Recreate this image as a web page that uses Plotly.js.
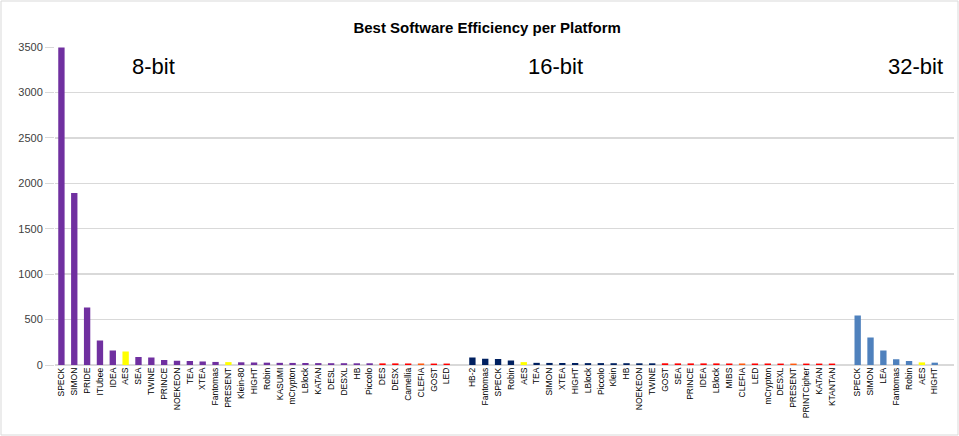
<!DOCTYPE html>
<html>
<head>
<meta charset="utf-8">
<script src="https://cdn.plot.ly/plotly-3.0.1.min.js"></script>
<style>html,body{margin:0;padding:0;background:#fff;}#chart{width:959px;height:436px;}</style>
</head>
<body>
<div id="chart"></div>
<script>
// ---- data ----
var groupNames = ['8-bit', '16-bit', '32-bit'];

var labels8 = ['SPECK','SIMON','PRIDE','ITUbee','IDEA','AES','SEA','TWINE','PRINCE','NOEKEON','TEA','XTEA','Fantomas','PRESENT','Klein-80','HIGHT','Robin','KASUMI','mCrypton','LBlock','KATAN','DESL','DESXL','HB','Piccolo','DES','DESX','Camellia','CLEFIA','GOST','LED'];
var values8 = [3480,1880,620,255,145,135,75,68,40,33,30,25,20,18,16,14,12,10,9,8,7,6,6,5,5,4,4,3,3,2,2];
var kinds8  = ['base','base','base','base','base','aes','base','base','base','base','base','base','base','aes','base','base','base','base','base','base','base','base','base','base','base','red','red','red','orange','red','red'];

var labels16 = ['HB-2','Fantomas','SPECK','Robin','AES','TEA','SIMON','XTEA','HIGHT','LBlock','Piccolo','Klein','HB','NOEKEON','TWINE','GOST','SEA','PRINCE','IDEA','LBlock','MIBS','CLEFIA','LED','mCrypton','DESXL','PRESENT','PRINTCipher','KATAN','KTANTAN'];
var values16 = [70,55,52,35,18,10,9,8,8,7,7,6,6,5,5,5,4,4,4,4,3,3,3,3,2,2,2,2,2];
var kinds16  = ['base','base','base','base','aes','base','base','base','base','base','base','base','base','base','base','red','red','red','red','red','red','orange','red','red','red','orange','red','red','red'];

var labels32 = ['SPECK','SIMON','LEA','Fantomas','Robin','AES','HIGHT'];
var values32 = [530,290,145,50,30,15,12];
var kinds32  = ['base','base','base','base','base','aes','base'];

// ---- styles ----
var baseColors = ['#7030A0', '#002060', '#4F81BD'];
var kindColors = {aes: '#FFFF00', red: '#FF0000', orange: '#FF5A10'};

var groups = [
  {labels: labels8, values: values8, kinds: kinds8},
  {labels: labels16, values: values16, kinds: kinds16},
  {labels: labels32, values: values32, kinds: kinds32}
];

var xs = [], ys = [], cols = [], tvals = [], ttext = [];
var pos = 0;
groups.forEach(function (g, gi) {
  g.labels.forEach(function (lab, i) {
    xs.push(pos); ys.push(g.values[i]);
    var k = g.kinds[i];
    cols.push(k === 'base' ? baseColors[gi] : kindColors[k]);
    tvals.push(pos); ttext.push(lab);
    pos++;
  });
  pos++; // empty slot between platforms
});
var nSlots = pos - 1;

var trace = {
  type: 'bar', x: xs, y: ys,
  marker: {color: cols, line: {color: cols, width: 2.5}},
  width: 0.3,
  hoverinfo: 'x+y'
};

var annPos = [7.2, 38.5, 66.5];
var annotations = groupNames.map(function (n, i) {
  return {text: n, x: annPos[i], y: 3280, xref: 'x', yref: 'y', showarrow: false,
          font: {family: 'Liberation Sans, Arial, sans-serif', size: 22, color: '#000'}};
});

var pw = 899, ph = 318;
var layout = {
  width: 959, height: 436,
  margin: {l: 55, r: 5, t: 47, b: 71},
  paper_bgcolor: '#fff', plot_bgcolor: '#fff',
  showlegend: false,
  title: {text: '<b>Best Software Efficiency per Platform</b>', x: 0.508, xanchor: 'center', y: 0.937, yanchor: 'middle',
          font: {family: 'Liberation Sans, Arial, sans-serif', size: 15, color: '#000'}},
  xaxis: {range: [-0.5, nSlots + 0.5], tickmode: 'array', tickvals: tvals, ticktext: ttext,
          tickangle: -90, tickfont: {family: 'Liberation Sans, Arial, sans-serif', size: 8.5, color: '#000'},
          showgrid: false, zeroline: false, showline: false, ticks: '', fixedrange: true},
  yaxis: {range: [0, 3500], dtick: 500, showgrid: true, gridcolor: '#D9D9D9', gridwidth: 1.3,
          zeroline: true, zerolinecolor: '#D9D9D9', zerolinewidth: 1.3,
          ticks: 'outside', ticklen: 9, tickcolor: '#D9D9D9',
          tickfont: {family: 'Liberation Sans, Arial, sans-serif', size: 11, color: '#404040'}},
  bargap: 0.5,
  annotations: annotations,
  shapes: [{type: 'rect', xref: 'paper', yref: 'paper',
            x0: (1 - 55) / pw, x1: (958 - 55) / pw, y0: (365 - 435) / ph, y1: (365 - 1) / ph,
            line: {color: '#D9D9D9', width: 1}, fillcolor: 'rgba(0,0,0,0)', layer: 'below'}]
};

Plotly.newPlot('chart', [trace], layout, {displayModeBar: false, staticPlot: true});
</script>
</body>
</html>
